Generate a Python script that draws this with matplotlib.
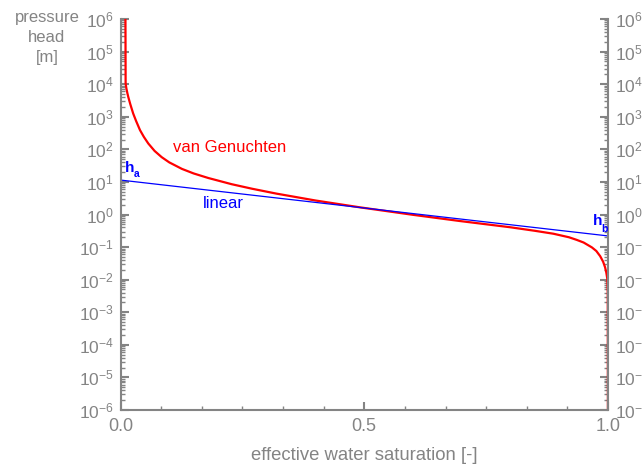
import matplotlib
matplotlib.use('Agg')
import matplotlib.pyplot as plt
from matplotlib.ticker import FixedLocator, FixedFormatter, LogLocator, NullFormatter, MultipleLocator

plt.rcParams['font.family'] = ['Liberation Sans', 'DejaVu Sans']
plt.rcParams['mathtext.fontset'] = 'custom'
plt.rcParams['mathtext.rm'] = 'Liberation Sans'
plt.rcParams['mathtext.it'] = 'Liberation Sans:italic'
plt.rcParams['mathtext.bf'] = 'Liberation Sans:bold'

# ---- data ----
S_vg = [0.0100, 0.0105, 0.012, 0.014, 0.016, 0.020, 0.026, 0.032, 0.040, 0.048,
        0.057, 0.070, 0.0845, 0.100, 0.126, 0.150, 0.180, 0.228, 0.270, 0.320,
        0.400, 0.491, 0.600, 0.696, 0.799, 0.850, 0.888, 0.920, 0.936, 0.950,
        0.967, 0.976, 0.984, 0.990, 0.994, 0.9965, 0.9986, 0.9995, 1.0]
h_vg = [1e7, 10470, 7499, 5370, 4027, 2455, 1259, 741, 389, 240,
        151, 89.1, 57.5, 39.8, 25.1, 18.2, 13.2, 8.51, 6.17, 4.37,
        2.69, 1.66, 0.977, 0.631, 0.407, 0.316, 0.257, 0.200, 0.166, 0.138,
        0.0977, 0.0759, 0.0525, 0.0355, 0.0240, 0.0166, 0.0105, 0.00398, 1e-8]

S_lin = [0.0, 1.0]
h_lin = [11.4, 0.22]

xticks = [0.0, 0.5, 1.0]
xtick_labels = ['0.0', '0.5', '1.0']
yticks = [1e-6, 1e-5, 1e-4, 1e-3, 1e-2, 1e-1, 1e0, 1e1, 1e2, 1e3, 1e4, 1e5, 1e6]
ytick_labels = ['$10^{-6}$', '$10^{-5}$', '$10^{-4}$', '$10^{-3}$', '$10^{-2}$',
                '$10^{-1}$', '$10^{0}$', '$10^{1}$', '$10^{2}$', '$10^{3}$',
                '$10^{4}$', '$10^{5}$', '$10^{6}$']

gray = '#848484'
red = '#ff0000'
blue = '#0000ff'

fig = plt.figure(figsize=(6.42, 4.68), dpi=100)
W, H = 642, 468
ax = fig.add_axes([120.5 / W, 1 - 410 / H, (608 - 120.5) / W, (410 - 19) / H])

ax.plot(S_vg, h_vg, color=red, lw=1.6, solid_joinstyle='round')
ax.plot(S_lin, h_lin, color=blue, lw=0.9)

ax.set_yscale('log')
ax.set_xlim(0, 1)
ax.set_ylim(1e-6, 1e6)

ax.spines['top'].set_visible(False)
for s in ['left', 'right', 'bottom']:
    ax.spines[s].set_color(gray)
    ax.spines[s].set_linewidth(1.5)

ax.xaxis.set_major_locator(FixedLocator(xticks))
ax.xaxis.set_major_formatter(FixedFormatter(xtick_labels))
ax.xaxis.set_minor_locator(MultipleLocator(1 / 12))
ax.yaxis.set_major_locator(FixedLocator(yticks))
ax.yaxis.set_major_formatter(FixedFormatter(ytick_labels))
ax.yaxis.set_minor_locator(LogLocator(base=10, subs=range(2, 10), numticks=100))
ax.yaxis.set_minor_formatter(NullFormatter())

ax.tick_params(axis='both', which='major', direction='in', length=6, width=1.5,
               colors=gray, labelsize=12.5)
ax.tick_params(axis='both', which='minor', direction='in', length=3, width=1,
               colors=gray)
ax.tick_params(axis='y', which='both', left=True, right=True, labelleft=True,
               labelright=True, pad=5)
ax.tick_params(axis='x', which='both', top=False, pad=6)
ax.tick_params(axis='x', which='major', labelsize=13)

ax.text(0.108, 117, 'van Genuchten', color=red, fontsize=12, ha='left', va='center')
ax.text(0.21, 2.25, 'linear', color=blue, fontsize=12, ha='center', va='center')

# h_a and h_b labels (letter + lowered small subscript)
ax.text(0.0092, 20.6, 'h', color=blue, fontsize=11, fontweight='bold',
        ha='left', va='baseline')
ax.annotate('a', xy=(0.0092, 20.6), xytext=(6.0, -4.0), textcoords='offset points',
            color=blue, fontsize=7.5, fontweight='bold', ha='left', va='baseline')
ax.text(0.969, 0.476, 'h', color=blue, fontsize=11, fontweight='bold',
        ha='left', va='baseline')
ax.annotate('b', xy=(0.969, 0.476), xytext=(6.3, -4.7), textcoords='offset points',
            color=blue, fontsize=7.5, fontweight='bold', ha='left', va='baseline')

fig.text(47 / W, 1 - 37.5 / H, 'pressure\nhead\n[m]', color=gray, fontsize=12,
         ha='center', va='center', multialignment='center', linespacing=1.4)
fig.text(364 / W, 1 - 456 / H, 'effective water saturation [-]', color=gray,
         fontsize=13.3, ha='center', va='center')

fig.savefig('out.png', dpi=100)
